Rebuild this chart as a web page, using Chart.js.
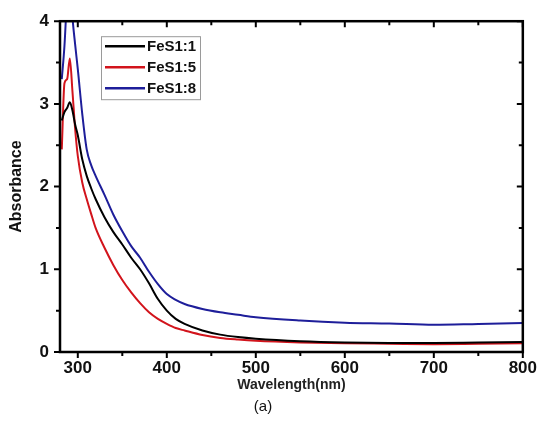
<!DOCTYPE html>
<html lang="en">
<head>
<meta charset="UTF-8">
<title>Absorbance spectra</title>
<script src="https://cdn.jsdelivr.net/npm/chart.js@4"></script>
<style>
  html, body { margin: 0; padding: 0; background: #fff; }
  #wrap { width: 543px; height: 437px; position: relative; }
</style>
</head>
<body>
<div id="wrap"><canvas id="absChart"></canvas></div>
<script>
// values
const wavelengths = [282, 285, 288, 291, 294, 297, 300, 305, 310, 315, 320, 330, 340, 350, 360, 370, 380, 390, 400, 410, 420, 440, 460, 480, 500, 550, 600, 650, 700, 750, 800];
const fes1_1 = [2.8, 2.9, 2.95, 3.02, 2.92, 2.75, 2.62, 2.33, 2.13, 1.98, 1.85, 1.63, 1.45, 1.3, 1.14, 1.0, 0.83, 0.64, 0.5, 0.4, 0.34, 0.26, 0.21, 0.18, 0.16, 0.13, 0.115, 0.11, 0.11, 0.115, 0.12];
const fes1_5 = [2.45, 3.25, 3.3, 3.55, 3.15, 2.7, 2.37, 2.05, 1.85, 1.67, 1.5, 1.26, 1.05, 0.87, 0.72, 0.59, 0.48, 0.4, 0.34, 0.29, 0.26, 0.205, 0.17, 0.15, 0.135, 0.115, 0.105, 0.1, 0.095, 0.1, 0.105];
const fes1_8 = [3.3, 3.7, 4.3, 4.6, 4.05, 3.72, 3.42, 2.88, 2.45, 2.26, 2.13, 1.9, 1.66, 1.46, 1.28, 1.14, 0.97, 0.82, 0.7, 0.63, 0.58, 0.52, 0.48, 0.45, 0.42, 0.38, 0.355, 0.345, 0.33, 0.34, 0.35];
const seriesLabels = ['FeS1:1', 'FeS1:5', 'FeS1:8'];
const seriesColors = ['#000000', '#d2141c', '#1e1e9a'];
const xTickValues = [300, 350, 400, 450, 500, 550, 600, 650, 700, 750, 800];
const xTickLabels = [300, 400, 500, 600, 700, 800];
const yTickLabels = [0, 1, 2, 3, 4];

const toPoints = vals => wavelengths.map((w, i) => ({ x: w, y: vals[i] }));
const labelFont = { family: '"Liberation Sans", Arial, sans-serif', size: 17, weight: 'bold' };

// frame, Origin-style ticks and the boxed legend inside the plot
const framePlugin = {
    id: 'frame',
    afterDraw(chart) {
        const ctx = chart.ctx;
        const a = chart.chartArea;
        const xs = chart.scales.x, ys = chart.scales.y;
        ctx.save();
        ctx.strokeStyle = '#000';
        ctx.lineWidth = 2;
        xs.ticks.forEach(t => {
            const len = xTickLabels.includes(t.value) ? 6 : 4;
            const px = xs.getPixelForValue(t.value);
            ctx.beginPath();
            ctx.moveTo(px, a.bottom); ctx.lineTo(px, a.bottom + len);
            ctx.moveTo(px, a.top); ctx.lineTo(px, a.top + len);
            ctx.stroke();
        });
        ys.ticks.forEach(t => {
            const len = yTickLabels.includes(t.value) ? 6 : 4;
            const py = ys.getPixelForValue(t.value);
            ctx.beginPath();
            ctx.moveTo(a.left, py); ctx.lineTo(a.left - len, py);
            ctx.moveTo(a.right, py); ctx.lineTo(a.right - len, py);
            ctx.stroke();
        });
        ctx.lineWidth = 2.5;
        ctx.strokeRect(a.left, a.top, a.right - a.left, a.bottom - a.top);

        // legend
        const bx = a.left + 41, by = a.top + 15, bw = 99, bh = 63, row = 21;
        ctx.lineWidth = 1;
        ctx.strokeStyle = '#9a9a9a';
        ctx.fillStyle = '#fff';
        ctx.fillRect(bx, by, bw, bh);
        ctx.strokeRect(bx + 0.5, by + 0.5, bw, bh);
        ctx.font = 'bold 15px "Liberation Sans", Arial, sans-serif';
        ctx.textBaseline = 'middle';
        chart.data.datasets.forEach((ds, i) => {
            const ry = by + 10 + i * row;
            ctx.strokeStyle = ds.borderColor;
            ctx.lineWidth = 2.5;
            ctx.beginPath();
            ctx.moveTo(bx + 4, ry); ctx.lineTo(bx + 44, ry);
            ctx.stroke();
            ctx.fillStyle = '#111';
            ctx.fillText(ds.label, bx + 46, ry + 1);
        });
        ctx.restore();
    }
};

const ctx = document.getElementById('absChart').getContext('2d');
new Chart(ctx, {
    type: 'line',
    data: {
        datasets: [
            { label: seriesLabels[0], data: toPoints(fes1_1), borderColor: seriesColors[0] },
            { label: seriesLabels[1], data: toPoints(fes1_5), borderColor: seriesColors[1] },
            { label: seriesLabels[2], data: toPoints(fes1_8), borderColor: seriesColors[2] }
        ]
    },
    options: {
        responsive: true,
        maintainAspectRatio: false,
        animation: false,
        datasets: {
            line: { borderWidth: 2, pointRadius: 0, cubicInterpolationMode: 'monotone', fill: false }
        },
        layout: { padding: { top: 20, right: 17, left: 0, bottom: 0 } },
        plugins: {
            legend: { display: false },
            tooltip: { enabled: false },
            subtitle: {
                display: true,
                position: 'bottom',
                text: '(a)',
                color: '#111',
                font: { family: '"Liberation Sans", Arial, sans-serif', size: 15, weight: 'normal' },
                padding: { top: 4, bottom: 21 }
            }
        },
        scales: {
            x: {
                type: 'linear',
                min: 280,
                max: 800,
                grid: { display: false, drawTicks: false },
                border: { display: false },
                afterBuildTicks(scale) { scale.ticks = xTickValues.map(v => ({ value: v })); },
                afterFit(scale) { scale.height = 42; },
                ticks: {
                    autoSkip: false,
                    maxRotation: 0,
                    padding: 6,
                    color: '#111',
                    font: labelFont,
                    callback: v => xTickLabels.includes(v) ? String(v) : ''
                },
                title: {
                    display: true,
                    text: 'Wavelength(nm)',
                    color: '#222',
                    font: { family: '"Liberation Sans", Arial, sans-serif', size: 14, weight: 'bold' },
                    padding: { top: 0, bottom: 0 }
                }
            },
            y: {
                min: 0,
                max: 4,
                grid: { display: false, drawTicks: false },
                border: { display: false },
                afterFit(scale) { scale.width = 60; },
                ticks: {
                    stepSize: 0.5,
                    autoSkip: false,
                    padding: 11,
                    color: '#111',
                    font: labelFont,
                    callback: v => yTickLabels.includes(v) ? String(v) : ''
                },
                title: {
                    display: true,
                    text: 'Absorbance',
                    color: '#111',
                    font: { family: '"Liberation Sans", Arial, sans-serif', size: 16, weight: 'bold' },
                    padding: { top: 7, bottom: 0 }
                }
            }
        }
    },
    plugins: [framePlugin]
});
</script>
</body>
</html>
